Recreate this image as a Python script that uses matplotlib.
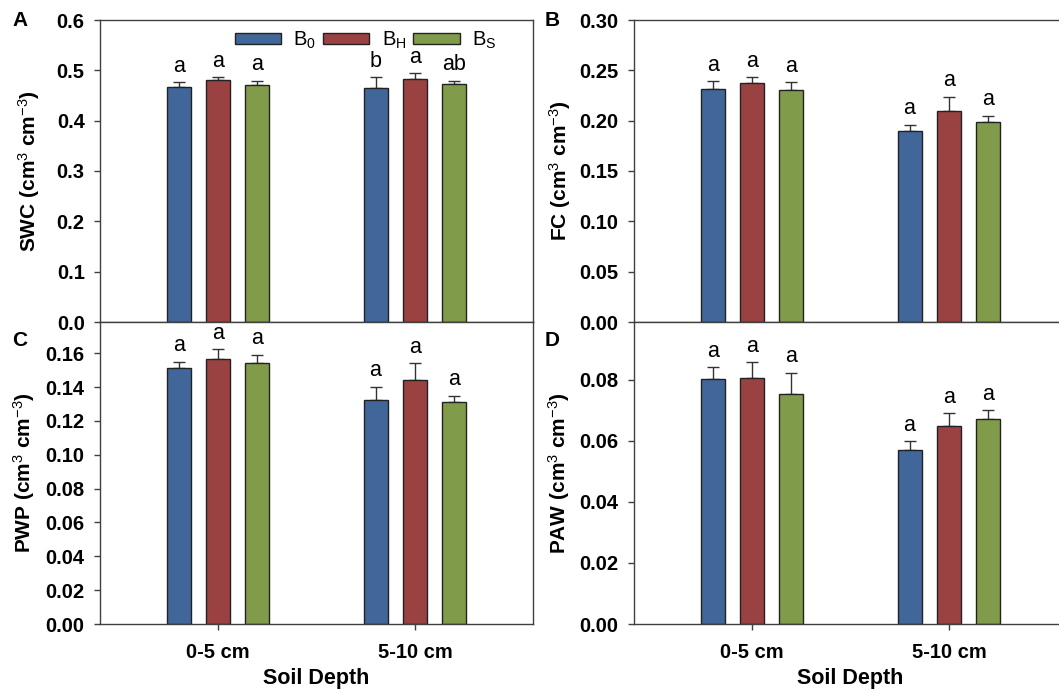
import matplotlib
matplotlib.use("Agg")
import matplotlib.pyplot as plt
import numpy as np
from matplotlib.patches import Patch
from matplotlib.ticker import FormatStrFormatter

plt.rcParams['font.family'] = ['Liberation Sans', 'DejaVu Sans']
plt.rcParams['mathtext.fontset'] = 'custom'
plt.rcParams['mathtext.rm'] = 'Liberation Sans'
plt.rcParams['mathtext.it'] = 'Liberation Sans:italic'
plt.rcParams['mathtext.bf'] = 'Liberation Sans:bold'

# ---- data ----
depths = ['0-5 cm', '5-10 cm']
treatments = [r'B$_0$', r'B$_\mathrm{H}$', r'B$_\mathrm{S}$']
colors = ['#416699', '#9A4241', '#809C4A']

swc_mean = [[0.4675, 0.465], [0.481, 0.483], [0.471, 0.472]]
swc_err = [[0.0085, 0.021], [0.005, 0.011], [0.008, 0.007]]
swc_sig = [['a', 'b'], ['a', 'a'], ['a', 'ab']]

fc_mean = [[0.2318, 0.190], [0.2377, 0.2096], [0.230, 0.1987]]
fc_err = [[0.0072, 0.006], [0.0053, 0.0144], [0.008, 0.0063]]
fc_sig = [['a', 'a'], ['a', 'a'], ['a', 'a']]

pwp_mean = [[0.1511, 0.1324], [0.1565, 0.1440], [0.1541, 0.1310]]
pwp_err = [[0.0039, 0.0079], [0.0059, 0.0101], [0.0051, 0.0040]]
pwp_sig = [['a', 'a'], ['a', 'a'], ['a', 'a']]

paw_mean = [[0.0802, 0.0569], [0.0807, 0.0650], [0.0754, 0.0671]]
paw_err = [[0.0040, 0.0030], [0.0051, 0.0041], [0.0070, 0.0030]]
paw_sig = [['a', 'a'], ['a', 'a'], ['a', 'a']]

W, H = 1059, 691
fig = plt.figure(figsize=(W / 100, H / 100), dpi=100)

def fx(px):
    return px / W

def fy(py):
    return 1 - py / H

axw = 433 / W
axh = 302 / H
axA = fig.add_axes([fx(100), fy(322), axw, axh])
axB = fig.add_axes([fx(634), fy(322), axw, axh])
axC = fig.add_axes([fx(100), fy(624), axw, axh])
axD = fig.add_axes([fx(634), fy(624), axw, axh])

panels = [
    (axA, swc_mean, swc_err, swc_sig, 'SWC', (0, 0.6), np.arange(0, 0.61, 0.1), '%.1f', False),
    (axB, fc_mean, fc_err, fc_sig, 'FC', (0, 0.30), np.arange(0, 0.301, 0.05), '%.2f', False),
    (axC, pwp_mean, pwp_err, pwp_sig, 'PWP', (0, 0.1785), np.arange(0, 0.161, 0.02), '%.2f', True),
    (axD, paw_mean, paw_err, paw_sig, 'PAW', (0, 0.099), np.arange(0, 0.081, 0.02), '%.2f', True),
]

x = np.arange(len(depths))
offset = 0.2
bw = 0.122
spine_col = '#404040'

for ax, means, errs, sigs, name, ylim, yt, fmt, bottom in panels:
    for i in range(3):
        xi = x + (i - 1) * offset
        m = np.array(means[i])
        e = np.array(errs[i])
        ax.errorbar(xi, m, yerr=[np.zeros_like(e), e], fmt='none', ecolor='#333333',
                    elinewidth=1, capsize=4, capthick=1, zorder=1)
        ax.bar(xi, m, width=bw, color=colors[i], edgecolor='#222222', linewidth=1, zorder=2)
        for xx, mm, ee, s in zip(xi, m, e, sigs[i]):
            ax.annotate(s, (xx, mm + ee), xytext=(0, 4), textcoords='offset points',
                        ha='center', va='bottom', fontsize=15.5)
    ax.set_xlim(-0.6, 1.6)
    ax.set_ylim(*ylim)
    ax.set_yticks(yt)
    ax.yaxis.set_major_formatter(FormatStrFormatter(fmt))
    ax.tick_params(axis='y', direction='out', length=4, width=1, pad=7,
                   labelsize=14.5, color=spine_col)
    for lab in ax.get_yticklabels():
        lab.set_fontweight('bold')
    for sp in ax.spines.values():
        sp.set_color(spine_col)
        sp.set_linewidth(1)
    ax.set_ylabel(name + r' (cm$^{3}$ cm$^{-3}$)', fontsize=15, fontweight='bold')
    if bottom:
        ax.set_xticks(x)
        ax.set_xticklabels(depths, fontsize=14.5, fontweight='bold')
        ax.tick_params(axis='x', direction='out', length=4, width=1, pad=10, color=spine_col)
        ax.set_xlabel('Soil Depth', fontsize=15.5, fontweight='bold', labelpad=4)
    else:
        ax.set_xticks([])

# y label positions (right edge of rotated label)
for ax, xp in [(axA, 42), (axC, 37), (axB, 573), (axD, 572)]:
    bb = ax.get_position()
    ax.yaxis.set_label_coords((xp - bb.x0 * W) / (bb.width * W), 0.5)

# panel letters
for letter, px, py in [('A', 20, 21), ('B', 552, 21), ('C', 20, 340), ('D', 552, 340)]:
    fig.text(fx(px), fy(py), letter, fontsize=15, fontweight='bold', ha='center', va='center')

handles = [Patch(facecolor=c, edgecolor='#222222', linewidth=1) for c in colors]
axA.legend(handles, treatments, loc='center', bbox_to_anchor=(0.613, 0.934), ncol=3,
           frameon=False, fontsize=14.5, handlelength=2.3, handleheight=0.45,
           handletextpad=0.6, columnspacing=0.35, borderpad=0, borderaxespad=0)

fig.savefig('out.png', dpi=100)
